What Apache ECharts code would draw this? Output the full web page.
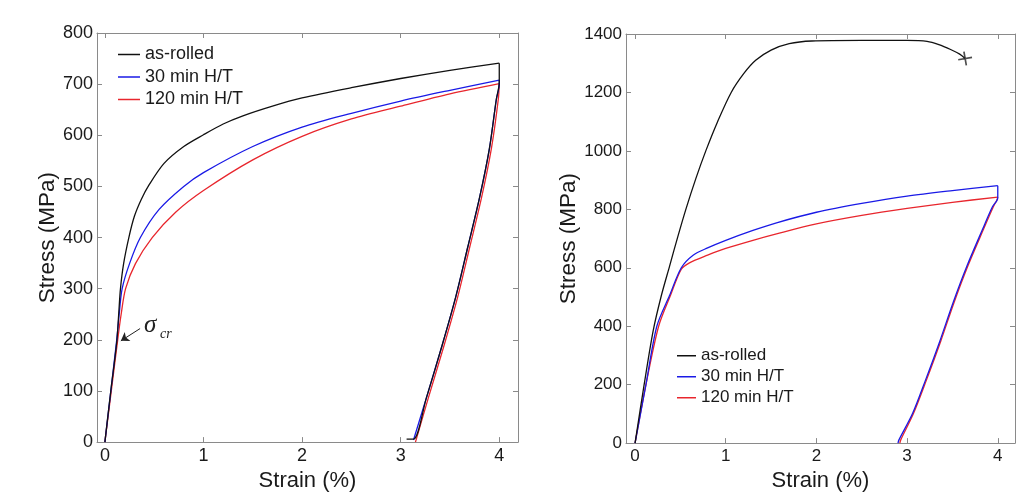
<!DOCTYPE html>
<html>
<head>
<meta charset="utf-8">
<script src="https://cdn.jsdelivr.net/npm/echarts@6/dist/echarts.min.js"></script>
<style>
html,body{margin:0;padding:0;background:#fff;}
#chart{width:1033px;height:497px;}
</style>
</head>
<body>
<div id="chart"></div>
<script>
// ---------- data (strain %, stress MPa) ----------
const seriesNames = ['as-rolled', '30 min H/T', '120 min H/T'];
const xTicks = [0, 1, 2, 3, 4];
const leftYTicks = [0, 100, 200, 300, 400, 500, 600, 700, 800];
const rightYTicks = [0, 200, 400, 600, 800, 1000, 1200, 1400];

// Left panel: loading
const leftRolledLoadStrain = [0, 0.06, 0.12, 0.14, 0.158, 0.19, 0.243, 0.30, 0.37, 0.445, 0.6, 0.8, 1.0, 1.2, 1.4, 1.7, 2.0, 2.5, 3.0, 3.5, 4.0];
const leftRolledLoadStress = [0, 100, 195, 250, 300, 349, 400, 442, 475, 502, 545, 578, 601, 622, 638, 657, 673, 693, 711, 727, 741];
const left30LoadStrain = [0, 0.06, 0.12, 0.145, 0.175, 0.25, 0.36, 0.55, 0.8, 1.0, 1.5, 2.0, 2.5, 3.0, 3.5, 4.0];
const left30LoadStress = [0, 100, 200, 250, 300, 349, 400, 455, 500, 527, 578, 616, 643, 667, 688, 708];
const left120LoadStrain = [0, 0.065, 0.13, 0.165, 0.21, 0.31, 0.48, 0.72, 1.0, 1.5, 2.0, 2.5, 3.0, 3.5, 4.0];
const left120LoadStress = [0, 100, 200, 250, 300, 349, 400, 450, 492, 552, 598, 632, 657, 681, 701];
// Left panel: unloading
const leftRolledUnloadStrain = [4.0, 4.0, 3.97, 3.90, 3.80, 3.68, 3.56, 3.42, 3.26, 3.13, 3.06];
const leftRolledUnloadStress = [741, 703, 670, 574, 478, 381, 285, 189, 86, 6, 6];
const left30UnloadStrain = [4.0, 4.0, 3.97, 3.90, 3.80, 3.68, 3.56, 3.42, 3.26, 3.13];
const left30UnloadStress = [708, 700, 670, 574, 478, 381, 285, 189, 86, 4];
const left120UnloadStrain = [4.0, 3.99, 3.92, 3.82, 3.70, 3.58, 3.44, 3.28, 3.15];
const left120UnloadStress = [701, 670, 574, 478, 381, 285, 189, 86, 0];

// Right panel: loading
const rightRolledLoadStrain = [0, 0.1, 0.2, 0.29, 0.38, 0.47, 0.56, 0.67, 0.78, 0.91, 1.06, 1.2, 1.33, 1.5, 1.7, 1.95, 2.5, 3.0, 3.22, 3.35, 3.48, 3.58, 3.64];
const rightRolledLoadStress = [0, 200, 385, 505, 605, 705, 800, 905, 1000, 1100, 1200, 1265, 1310, 1345, 1367, 1376, 1378, 1378, 1375, 1364, 1347, 1331, 1316];
const right30LoadStrain = [0, 0.12, 0.24, 0.38, 0.51, 0.64, 0.8, 1.0, 1.3, 1.56, 2.0, 2.5, 3.0, 3.5, 4.0];
const right30LoadStress = [0, 200, 400, 505, 600, 643, 668, 694, 728, 754, 790, 820, 845, 864, 881];
const right120LoadStrain = [0, 0.12, 0.26, 0.39, 0.51, 0.6, 0.8, 1.0, 1.3, 1.56, 2.0, 2.5, 3.0, 3.5, 4.0];
const right120LoadStress = [0, 200, 400, 505, 595, 617, 643, 666, 694, 716, 750, 779, 803, 824, 842];
// Right panel: unloading
const right30UnloadStrain = [4.0, 4.0, 3.99, 3.94, 3.83, 3.66, 3.51, 3.36, 3.20, 3.06, 2.91, 2.90];
const right30UnloadStress = [881, 840, 830, 808, 730, 606, 483, 348, 213, 101, 11, 0];
const right120UnloadStrain = [4.0, 3.99, 3.95, 3.84, 3.67, 3.52, 3.37, 3.21, 3.07, 2.93, 2.92];
const right120UnloadStress = [842, 832, 808, 730, 606, 483, 348, 213, 101, 11, 0];
// fracture point of as-rolled (right panel)
const fractureStrain = [3.64];
const fractureStress = [1316];

// sigma_cr annotation arrow (data coords, left panel): tail -> head
const arrowStrain = [0.357, 0.162];
const arrowStress = [222, 198];

// ---------- helpers ----------
const zip = (xs, ys) => xs.map((x, i) => [x, ys[i]]);
const colors = ['#111111', '#1a1ae6', '#e8262d'];
const axisGrey = '#8a8a8a';
const font = 'Liberation Sans, Arial, sans-serif';

function xAx(grid, pos, show, min, max, fs) {
  return {
    gridIndex: grid, type: 'value', position: pos, min: min, max: max,
    name: show ? 'Strain (%)' : '', nameLocation: 'middle', nameGap: 21,
    nameTextStyle: {fontSize: 22, color: '#1a1a1a', fontFamily: font},
    axisLine: {show: true, onZero: false, lineStyle: {color: axisGrey, width: 1}},
    axisTick: {show: true, inside: true, length: 5, customValues: xTicks, lineStyle: {color: axisGrey}},
    axisLabel: {show: show, customValues: xTicks, margin: 5, fontSize: fs, color: '#1a1a1a', fontFamily: font},
    splitLine: {show: false}
  };
}
function yAx(grid, pos, show, ticks, gap, fs) {
  return {
    gridIndex: grid, type: 'value', position: pos, min: ticks[0], max: ticks[ticks.length - 1],
    interval: ticks[1] - ticks[0],
    name: show ? 'Stress (MPa)' : '', nameLocation: 'middle', nameGap: gap,
    nameTextStyle: {fontSize: 22.5, color: '#1a1a1a', fontFamily: font},
    axisLine: {show: true, onZero: false, lineStyle: {color: axisGrey, width: 1}},
    axisTick: {show: true, inside: true, length: 5, lineStyle: {color: axisGrey}},
    axisLabel: {show: show, margin: 4, fontSize: fs, color: '#1a1a1a', fontFamily: font,
      formatter: v => String(v)},
    splitLine: {show: false}
  };
}
function line(name, xi, yi, data, ci) {
  return {
    type: 'line', name: name, xAxisIndex: xi, yAxisIndex: yi, data: data,
    symbol: 'none', smooth: 0.3, z: 5 - ci,
    lineStyle: {color: colors[ci], width: 1.3},
    itemStyle: {color: colors[ci]}
  };
}

const legendBase = {
  orient: 'vertical', icon: 'rect', itemHeight: 1.5, padding: 0, itemGap: 1.5,
  data: seriesNames, selectedMode: false
};

const chart = echarts.init(document.getElementById('chart'), null, {renderer: 'canvas'});
const option = {
  animation: false,
  backgroundColor: '#ffffff',
  grid: [
    {left: 97, top: 33, width: 421, height: 415},
    {left: 626, top: 34, width: 389, height: 416}
  ],
  xAxis: [
    xAx(0, 'bottom', true, -0.08, 4.19, 18),
    xAx(0, 'top', false, -0.08, 4.19, 18),
    xAx(1, 'bottom', true, -0.1, 4.19, 17),
    xAx(1, 'top', false, -0.1, 4.19, 17)
  ],
  yAxis: [
    yAx(0, 'left', true, leftYTicks, 38, 18),
    yAx(0, 'right', false, leftYTicks, 0, 18),
    yAx(1, 'left', true, rightYTicks, 37, 17),
    yAx(1, 'right', false, rightYTicks, 0, 17)
  ],
  legend: [
    Object.assign({}, legendBase, {left: 118, top: 44, itemWidth: 22,
      textStyle: {fontSize: 18, color: '#1a1a1a', fontFamily: font, lineHeight: 21}}),
    Object.assign({}, legendBase, {left: 677, top: 346, itemWidth: 19,
      textStyle: {fontSize: 17, color: '#1a1a1a', fontFamily: font, lineHeight: 19.5}})
  ],
  series: [
    line(seriesNames[2], 0, 0, zip(left120LoadStrain, left120LoadStress), 2),
    line(seriesNames[2], 0, 0, zip(left120UnloadStrain, left120UnloadStress), 2),
    line(seriesNames[1], 0, 0, zip(left30LoadStrain, left30LoadStress), 1),
    line(seriesNames[1], 0, 0, zip(left30UnloadStrain, left30UnloadStress), 1),
    line(seriesNames[0], 0, 0, zip(leftRolledLoadStrain, leftRolledLoadStress), 0),
    line(seriesNames[0], 0, 0, zip(leftRolledUnloadStrain, leftRolledUnloadStress), 0),
    line(seriesNames[2], 2, 2, zip(right120LoadStrain, right120LoadStress), 2),
    line(seriesNames[2], 2, 2, zip(right120UnloadStrain, right120UnloadStress), 2),
    line(seriesNames[1], 2, 2, zip(right30LoadStrain, right30LoadStress), 1),
    line(seriesNames[1], 2, 2, zip(right30UnloadStrain, right30UnloadStress), 1),
    line(seriesNames[0], 2, 2, zip(rightRolledLoadStrain, rightRolledLoadStress), 0),
    {
      type: 'scatter', name: 'fracture', xAxisIndex: 2, yAxisIndex: 2,
      data: zip(fractureStrain, fractureStress),
      symbol: 'path://M0,4.4h10v1.2h-10z M4.4,0h1.2v10h-1.2z', symbolSize: 14, symbolRotate: 10,
      itemStyle: {color: '#222'}, z: 10
    },
    {
      type: 'line', name: 'arrow', xAxisIndex: 0, yAxisIndex: 0, data: [],
      markLine: {
        silent: true, symbol: ['none', 'arrow'], symbolSize: 8,
        label: {show: false},
        lineStyle: {color: '#222', width: 1, type: 'solid'},
        data: [[{coord: [arrowStrain[0], arrowStress[0]]}, {coord: [arrowStrain[1], arrowStress[1]]}]]
      }
    }
  ],
  graphic: [
    {type: 'text', left: 144, top: 313, style: {text: 'σ', font: 'italic 25px "Liberation Serif", serif', fill: '#222'}},
    {type: 'text', left: 160, top: 327, style: {text: 'cr', font: 'italic 14px "Liberation Serif", serif', fill: '#222'}}
  ]
};
chart.setOption(option);
</script>
</body>
</html>
